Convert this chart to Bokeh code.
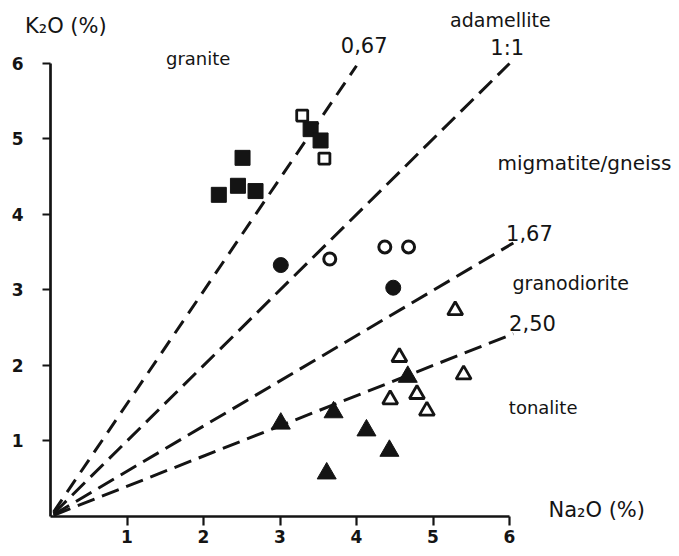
from bokeh.plotting import figure
from bokeh.models import LinearAxis, Range1d, Label, FixedTicker
from bokeh.embed import file_html
from bokeh.resources import INLINE

# ---- data (Na2O %, K2O %) ----
filled_sq_na = [2.20, 2.45, 2.51, 2.68, 3.40, 3.53]
filled_sq_k = [4.26, 4.38, 4.75, 4.31, 5.13, 4.98]
open_sq_na = [3.29, 3.58]
open_sq_k = [5.31, 4.74]
filled_ci_na = [3.01, 4.48]
filled_ci_k = [3.33, 3.03]
open_ci_na = [3.65, 4.37, 4.68]
open_ci_k = [3.41, 3.57, 3.57]
filled_tri_na = [3.01, 3.61, 3.70, 4.13, 4.43, 4.67]
filled_tri_k = [1.23, 0.57, 1.38, 1.14, 0.87, 1.85]
open_tri_na = [5.29, 4.56, 5.40, 4.44, 4.79, 4.92]
open_tri_k = [2.73, 2.11, 1.88, 1.55, 1.62, 1.40]

# Na2O/K2O ratio lines
ratios = [0.67, 1.0, 1.67, 2.50]
ratio_labels = ["0,67", "1:1", "1,67", "2,50"]
line_end_na = [4.0, 6.0, 6.05, 6.05]
line_start_na = 0.04

ticks = [1, 2, 3, 4, 5, 6]

INK = "#141414"
FONT = "DejaVu Sans"

p = figure(width=679, height=556, x_range=Range1d(-0.654, 8.222), y_range=Range1d(-0.530, 6.834),
           output_backend="svg", toolbar_location=None,
           x_axis_location=None, y_axis_location=None,
           min_border_left=0, min_border_bottom=0, min_border_top=0, min_border_right=0)
p.outline_line_color = None
p.background_fill_color = "white"
p.border_fill_color = "white"
for g in p.grid:
    g.visible = False

for ax, loc in ((LinearAxis(fixed_location=0), "below"), (LinearAxis(fixed_location=0), "left")):
    ax.bounds = (0, 6)
    ax.ticker = FixedTicker(ticks=ticks)
    ax.axis_line_width = 2.7
    ax.axis_line_color = INK
    ax.major_tick_line_width = 2.2
    ax.major_tick_line_color = INK
    ax.major_tick_in = 0
    ax.minor_tick_line_color = None
    ax.major_label_text_font = FONT
    ax.major_label_text_font_style = "bold"
    ax.major_label_text_font_size = "17px"
    ax.major_label_text_color = INK
    if loc == "below":
        ax.major_tick_out = 9
        ax.major_label_standoff = 5
    else:
        ax.major_tick_out = 8
        ax.major_label_standoff = 19
    p.add_layout(ax, loc)

# dashed ratio lines
for r, xe in zip(ratios, line_end_na):
    dash = "15 9" if r < 0.8 else "18 8"
    p.line([line_start_na, xe], [line_start_na / r, xe / r], line_color=INK,
           line_width=3, line_dash=dash)

# markers
p.scatter(filled_sq_na, filled_sq_k, marker="square", size=15, fill_color=INK, line_color=INK)
p.scatter(open_sq_na, open_sq_k, marker="square", size=11, fill_color="white",
          line_color=INK, line_width=2.8)
p.scatter(filled_ci_na, filled_ci_k, marker="circle", size=15, fill_color=INK, line_color=INK)
p.scatter(open_ci_na, open_ci_k, marker="circle", size=12, fill_color="white",
          line_color=INK, line_width=3)
p.scatter(filled_tri_na, filled_tri_k, marker="triangle", size=19, fill_color=INK, line_color=INK)
p.scatter(open_tri_na, open_tri_k, marker="triangle", size=15, fill_color="white",
          line_color=INK, line_width=2.8)

def lab(x, y, t, size="19px"):
    p.add_layout(Label(x=x, y=y, text=t, text_align="center", text_baseline="middle",
                       text_font=FONT, text_font_size=size, text_color=INK))

lab(0.2, 6.5, "K₂O (%)", "21px")
lab(7.14, 0.08, "Na₂O (%)", "21px")
lab(1.93, 6.07, "granite", "18px")
lab(5.88, 6.57, "adamellite")
lab(6.98, 4.68, "migmatite/gneiss", "20px")
lab(6.80, 3.09, "granodiorite")
lab(6.44, 1.44, "tonalite", "18px")
for (x, y), t in zip([(4.10, 6.24), (5.97, 6.20), (6.26, 3.76), (6.30, 2.56)], ratio_labels):
    lab(x, y, t, "21px")

open("out.html", "w").write(file_html(p, INLINE))
